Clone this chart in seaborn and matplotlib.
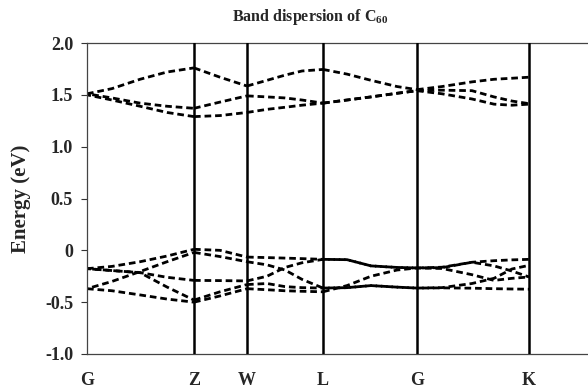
import numpy as np
import pandas as pd
import matplotlib
matplotlib.use("Agg")
import matplotlib.pyplot as plt
import seaborn as sns

# ---- data ----
kpoint_pos = [0, 107, 160, 236, 330, 442]
kpoint_labels = ["G", "Z", "W", "L", "G", "K"]
k_samples = [0, 25, 53, 80, 107, 133, 160, 180, 198, 215, 236,
             260, 284, 310, 330, 355, 385, 407, 425, 442]

# conduction (t1u-derived) bands
band_A = [1.51, 1.56, 1.65, 1.72, 1.76, 1.67, 1.585, 1.64, 1.69, 1.73, 1.745,
          1.70, 1.64, 1.58, 1.55, 1.58, 1.625, 1.65, 1.66, 1.67]
band_B = [1.51, 1.47, 1.42, 1.39, 1.37, 1.43, 1.49, 1.48, 1.47, 1.45, 1.42,
          1.45, 1.48, 1.515, 1.54, 1.545, 1.54, 1.48, 1.44, 1.415]
band_C = [1.50, 1.45, 1.39, 1.33, 1.29, 1.30, 1.33, 1.36, 1.38, 1.40, 1.42,
          1.45, 1.48, 1.515, 1.54, 1.51, 1.46, 1.41, 1.40, 1.41]
# valence (hu-derived) bands
band_v1 = [-0.177, -0.155, -0.11, -0.055, 0.01, 0.0, -0.065, -0.07, -0.075, -0.08, -0.087,
           -0.09, -0.15, -0.165, -0.17, -0.163, -0.115, -0.10, -0.092, -0.087]
band_v2 = [-0.37, -0.30, -0.205, -0.11, -0.02, -0.06, -0.11, -0.14, -0.19, -0.28, -0.364,
           -0.36, -0.34, -0.355, -0.364, -0.36, -0.32, -0.27, -0.18, -0.145]
band_v3 = [-0.177, -0.195, -0.215, -0.354, -0.48, -0.40, -0.33, -0.32, -0.35, -0.36, -0.364,
           -0.36, -0.34, -0.355, -0.364, -0.362, -0.365, -0.37, -0.373, -0.375]
band_v4 = [-0.37, -0.39, -0.43, -0.47, -0.50, -0.44, -0.37, -0.38, -0.39, -0.395, -0.40,
           -0.34, -0.25, -0.19, -0.17, -0.175, -0.235, -0.29, -0.27, -0.257]
band_v5 = [-0.177, -0.195, -0.215, -0.26, -0.29, -0.292, -0.295, -0.25, -0.165, -0.12, -0.087,
           -0.09, -0.15, -0.165, -0.17, -0.167, -0.115, -0.15, -0.20, -0.257]

bands = {"A": band_A, "B": band_B, "C": band_C,
         "v1": band_v1, "v2": band_v2, "v3": band_v3, "v4": band_v4, "v5": band_v5}

# dash phase (fraction of a dash period) per band and segment so degenerate
# branches overlap as solid lines like in the reference
phase = {("v5", 3): 0.5, ("v3", 3): 0.5, ("v5", 4): 0.5, ("v3", 4): 0.5,
         ("v4", 4): 0.25, ("B", 0): 0.5, ("C", 0): 0.25, ("v3", 0): 0.5,
         ("v2", 0): 0.5, ("v5", 0): 0.25}

sns.set_theme(style="white")
plt.rcParams["font.family"] = ["Liberation Serif", "DejaVu Serif"]
plt.rcParams["mathtext.fontset"] = "custom"
plt.rcParams["mathtext.rm"] = "Liberation Serif:bold"
plt.rcParams["mathtext.it"] = "Liberation Serif:bold"
plt.rcParams["mathtext.bf"] = "Liberation Serif:bold"

fig = plt.figure(figsize=(5.88, 3.90), dpi=100)
ax = fig.add_axes([87 / 588, 1 - 354 / 390, 1 - 87 / 588, (354 - 43) / 390])

lw = 2.0
on, off = 2.4, 1.4
period = on + off

k_arr = np.array(k_samples)
for name, vals in bands.items():
    vals = np.array(vals)
    for s in range(len(kpoint_pos) - 1):
        m = (k_arr >= kpoint_pos[s]) & (k_arr <= kpoint_pos[s + 1])
        df = pd.DataFrame({"k": k_arr[m], "E": vals[m]})
        sns.lineplot(data=df, x="k", y="E", ax=ax, color="black", lw=lw,
                     sort=False, estimator=None)
        ln = ax.lines[-1]
        ln.set_linestyle((phase.get((name, s), 0.0) * period, (on, off)))
        ln.set_dash_capstyle("butt")

for kp in kpoint_pos[1:]:
    ax.axvline(kp, color="black", lw=1.8, zorder=3)

ax.set_xlim(0, 501)
ax.set_ylim(-1.0, 2.0)
ax.set_xlabel("")
ax.set_ylabel("Energy (eV)", fontsize=15, fontweight="bold", labelpad=10)

ax.set_yticks([2.0, 1.5, 1.0, 0.5, 0, -0.5, -1.0])
ax.set_yticklabels(["2.0", "1.5", "1.0", "0.5", "0", "-0.5", "-1.0"],
                   fontsize=13, fontweight="bold")
ax.set_xticks(kpoint_pos)
ax.set_xticklabels(kpoint_labels, fontsize=13, fontweight="bold")
ax.tick_params(axis="y", direction="out", length=4, width=0.8, pad=6, left=True, color="#333333")
ax.tick_params(axis="x", length=0, pad=13)

for side in ["left", "top", "bottom"]:
    ax.spines[side].set_visible(True)
    ax.spines[side].set_color("#444444")
    ax.spines[side].set_linewidth(0.9)
ax.spines["right"].set_visible(False)
ax.grid(False)

fig.text(310 / 588, 1 - 17 / 390, "Band dispersion of C$_{60}$", ha="center", va="center",
         fontsize=11.5, fontweight="bold")

fig.savefig("out.png", dpi=100)
